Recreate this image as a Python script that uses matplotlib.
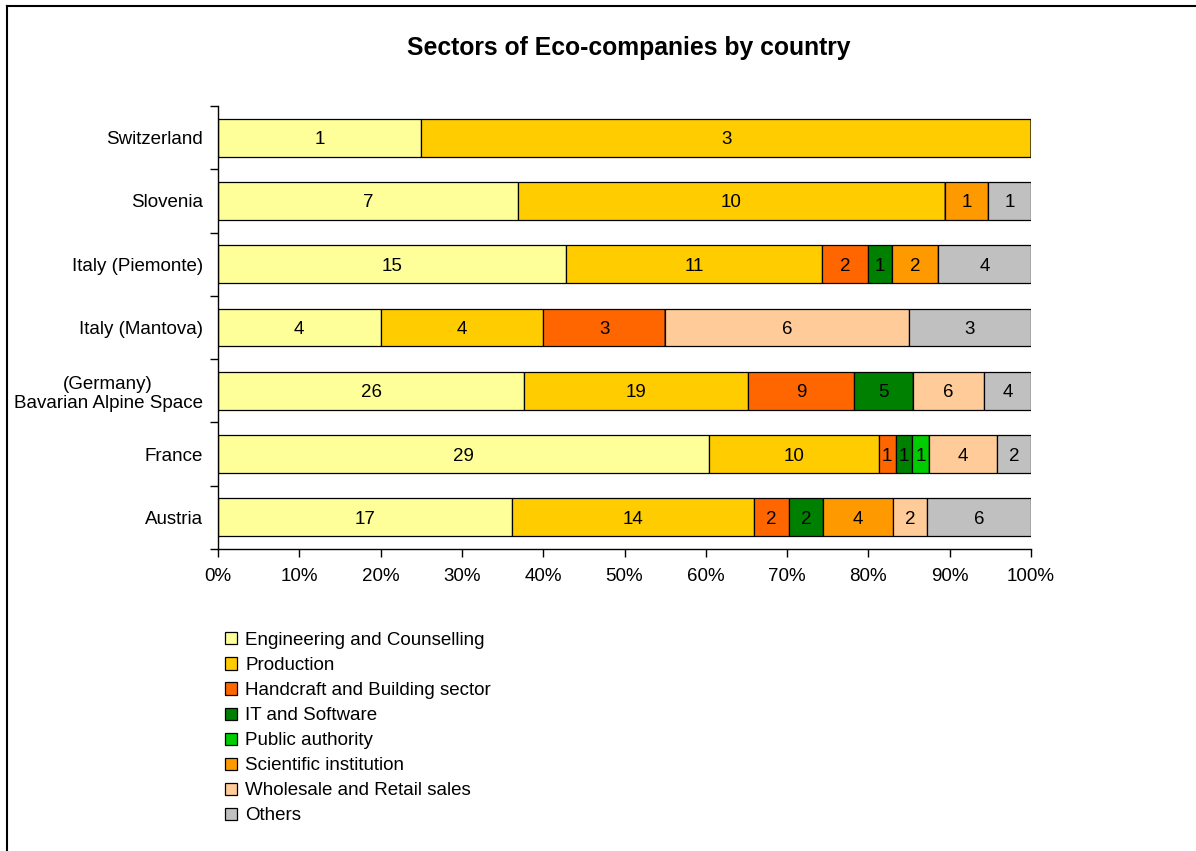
import numpy as np
import matplotlib.pyplot as plt
from matplotlib.lines import Line2D
from matplotlib.ticker import FixedLocator, PercentFormatter

plt.rcParams['font.family'] = ['Liberation Sans', 'DejaVu Sans']

countries = ['Austria', 'France', '(Germany)\nBavarian Alpine Space', 'Italy (Mantova)',
             'Italy (Piemonte)', 'Slovenia', 'Switzerland']
sectors = ['Engineering and Counselling', 'Production', 'Handcraft and Building sector',
           'IT and Software', 'Public authority', 'Scientific institution',
           'Wholesale and Retail sales', 'Others']
colors = ['#FFFF99', '#FFCC00', '#FF6600', '#008000', '#00CC00', '#FF9900', '#FFCC99', '#C0C0C0']

# counts per sector, countries in the order above (bottom to top)
engineering = [17, 29, 26, 4, 15, 7, 1]
production = [14, 10, 19, 4, 11, 10, 3]
handcraft = [2, 1, 9, 3, 2, 0, 0]
it_software = [2, 1, 5, 0, 1, 0, 0]
public_auth = [0, 1, 0, 0, 0, 0, 0]
scientific = [4, 0, 0, 0, 2, 1, 0]
wholesale = [2, 4, 6, 6, 0, 0, 0]
others = [6, 2, 4, 3, 4, 1, 0]

data = np.array([engineering, production, handcraft, it_software,
                 public_auth, scientific, wholesale, others], dtype=float)
totals = data.sum(axis=0)
shares = data / totals * 100

fs = 13.5

fig = plt.figure(figsize=(11.96, 8.51), dpi=100)
ax = fig.add_axes([218 / 1196, 1 - 549 / 851, 813 / 1196, 443 / 851])

y = np.arange(len(countries))
left = np.zeros(len(countries))
for i, sector in enumerate(sectors):
    bars = ax.barh(y, shares[i], left=left, height=0.6, color=colors[i],
                   edgecolor='black', linewidth=0.9, label=sector)
    labels = [str(int(v)) if v > 0 else '' for v in data[i]]
    for t in ax.bar_label(bars, labels=labels, label_type='center', fontsize=fs):
        t.set_va('center_baseline')
    left += shares[i]

ax.set_xlim(0, 100)
ax.set_ylim(-0.5, len(countries) - 0.5)
ax.set_xticks(np.arange(0, 101, 10))
ax.xaxis.set_major_formatter(PercentFormatter(decimals=0))
ax.set_yticks(y)
ax.set_yticklabels(countries, multialignment='center')
ax.yaxis.set_minor_locator(FixedLocator(np.arange(-0.5, len(countries), 1)))
ax.tick_params(axis='y', which='major', length=0, pad=11, labelsize=fs)
ax.tick_params(axis='y', which='minor', length=6, width=1, direction='out')
ax.tick_params(axis='x', length=6, width=1, direction='out', pad=8, labelsize=fs)

for s in ['top', 'right']:
    ax.spines[s].set_visible(False)
for s in ['left', 'bottom']:
    ax.spines[s].set_linewidth(1)

fig.text(0.5256, 1 - 48 / 851, 'Sectors of Eco-companies by country',
         ha='center', va='center', fontsize=17.8, fontweight='bold')

fig.legend(loc='upper left', bbox_to_anchor=(225 / 1196, 1 - 632 / 851), frameon=False,
           fontsize=fs, handlelength=0.62, handleheight=0.62, handletextpad=0.45,
           labelspacing=0.43, borderaxespad=0, borderpad=0)

# outer frame (left and top edges visible in the reference)
fig.add_artist(Line2D([7 / 1196, 7 / 1196], [0, 1 - 6 / 851], transform=fig.transFigure,
                      color='black', linewidth=1.5))
fig.add_artist(Line2D([7 / 1196, 1], [1 - 6 / 851, 1 - 6 / 851], transform=fig.transFigure,
                      color='black', linewidth=1.5))

fig.savefig('out.png', dpi=100)
